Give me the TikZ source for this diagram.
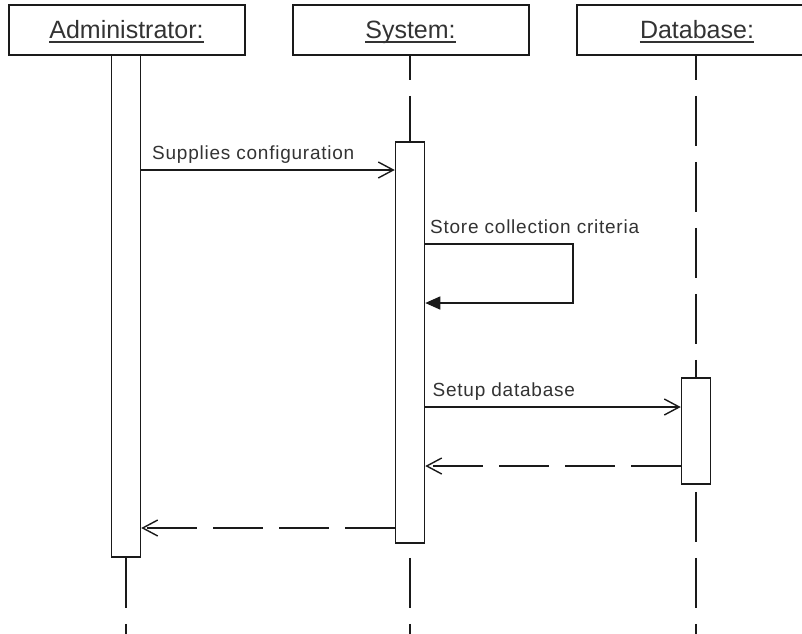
\documentclass[tikz,border=0pt]{standalone}
\usepackage{fontspec}
\setmainfont{Liberation Sans}
\newfontfamily\msgfont[LetterSpace=4]{Liberation Sans}
\usetikzlibrary{arrows.meta}
\definecolor{ink}{HTML}{1A1A1A}
\definecolor{txt}{HTML}{333333}

\tikzset{
  headbox/.style={draw=ink, fill=white, line width=1.5pt, rectangle,
    minimum width=236pt, minimum height=50pt, inner sep=0pt},
  headtxt/.style={text=txt, font=\fontsize{25}{25}\selectfont, inner sep=0pt, anchor=base},
  uline/.style={draw=txt, line width=1.2pt},
  lifeline/.style={draw=ink, line width=1.5pt, dash pattern=on 50pt off 16pt, dash phase=26pt},
  actbox/.style={draw=ink, fill=white, line width=1.5pt, rectangle,
    minimum width=29pt, inner sep=0pt},
  msgtxt/.style={text=txt, font=\msgfont\fontsize{19}{19}\selectfont, inner sep=0pt, anchor=base west},
  callmsg/.style={draw=ink, line width=1.5pt, -{Straight Barb[length=15pt,width=16pt,line width=1.4pt]}},
  selfmsg/.style={draw=ink, line width=1.5pt, -{Triangle[length=15pt,width=13pt]}},
  retmsg/.style={draw=ink, line width=1.5pt, dash pattern=on 50pt off 16pt,
    -{Straight Barb[length=15pt,width=16pt,line width=1.4pt]}},
}

\begin{document}
\begin{tikzpicture}[x=1pt,y=-1pt]
\useasboundingbox (0,0) rectangle (802,633);
\clip (0,0) rectangle (802,633);
\fill[white] (0,0) rectangle (802,633);

% lifeline ends below the picture edge
\coordinate (admEnd) at (126,680);
\coordinate (sysEnd) at (410,680);
\coordinate (dbEnd)  at (696,680);

% header boxes
\node[headbox] (adm) at (127,30) {};
\node[headbox] (sys) at (411,30) {};
\node[headbox] (db)  at (695,30) {};

% dashed lifelines
\draw[lifeline] (adm.south -| admEnd) -- (admEnd);
\draw[lifeline] (sys.south -| sysEnd) -- (sysEnd);
\draw[lifeline] (db.south -| dbEnd) -- (dbEnd);

% activation bars
\node[actbox, minimum height=502pt] (admAct) at (126,306) {};
\node[actbox, minimum height=401pt] (sysAct) at (410,342.5) {};
\node[actbox, minimum height=106pt] (dbAct)  at (696,431) {};

% headers drawn over the lifeline tops
\node[headbox] at (adm) {};
\node[headbox] at (sys) {};
\node[headbox] at (db) {};

% header titles, underlined
\node[headtxt] (admT) at (126.5,38) {Administrator:};
\node[headtxt] (sysT) at (410.5,38) {System:};
\node[headtxt] (dbT)  at (697,38) {Database:};
\foreach \t in {admT,sysT,dbT}
  \draw[uline] ([yshift=-4pt]\t.base west) -- ([yshift=-4pt]\t.base east);

% message rows
\coordinate (m1) at (0,170);
\coordinate (m2a) at (0,244);
\coordinate (m2b) at (0,303);
\coordinate (m3) at (0,407);
\coordinate (m4) at (0,466);
\coordinate (m5) at (0,528);
\coordinate (selfTurn) at (573,0);

% Supplies configuration
\draw[callmsg] (admAct.east |- m1) -- (sysAct.west |- m1);
\node[msgtxt] at (152,159.5) {Supplies configuration};

% Store collection criteria (self call)
\draw[selfmsg] (sysAct.east |- m2a) -- (selfTurn |- m2a) -- (selfTurn |- m2b) -- (sysAct.east |- m2b);
\node[msgtxt] at (430,233) {Store collection criteria};

% Setup database
\draw[callmsg] (sysAct.east |- m3) -- (dbAct.west |- m3);
\node[msgtxt] at (432.5,396) {Setup database};

% replies
\draw[retmsg] (dbAct.west |- m4) -- (sysAct.east |- m4);
\draw[retmsg] (sysAct.west |- m5) -- (admAct.east |- m5);
\end{tikzpicture}
\end{document}
